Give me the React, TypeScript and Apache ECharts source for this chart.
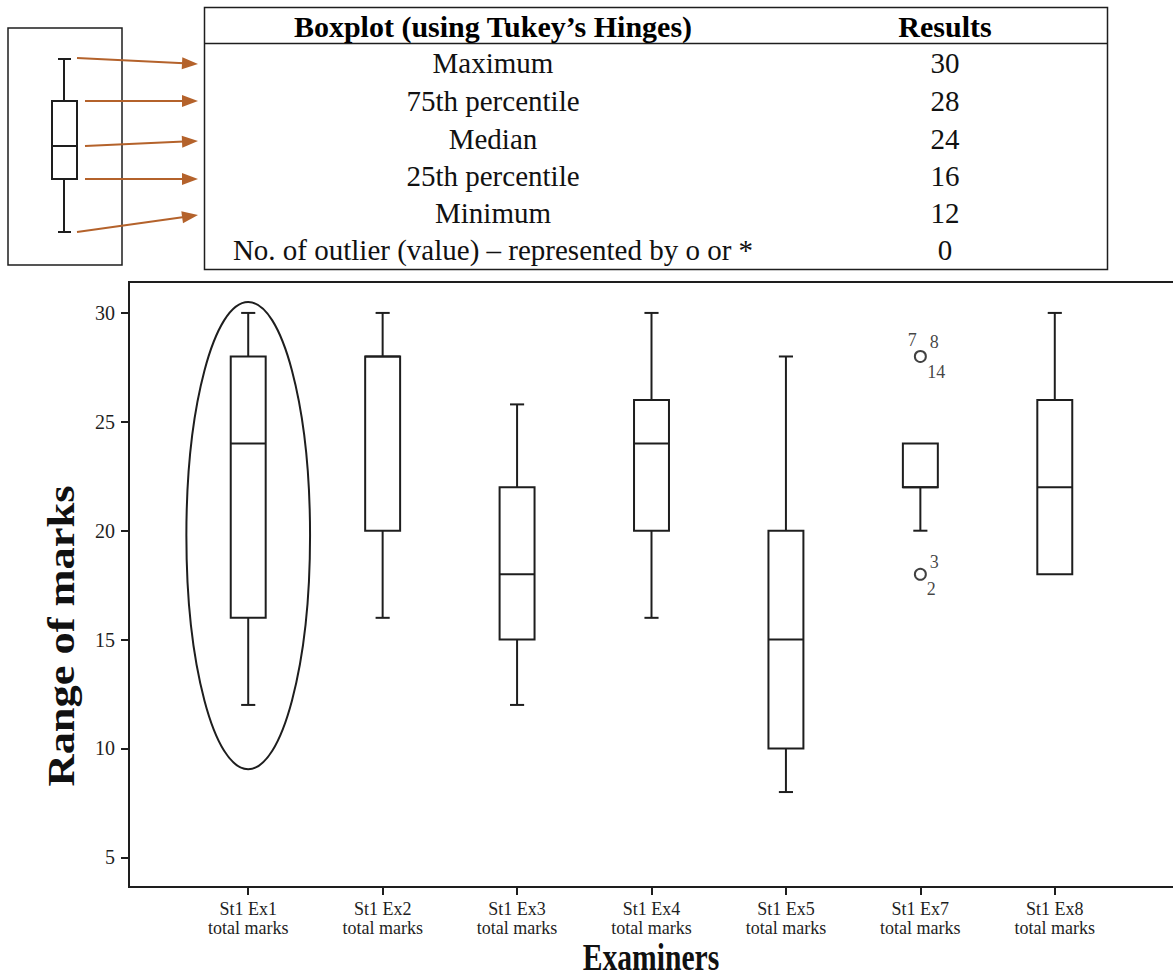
import React, { useEffect, useRef } from "react";
import * as echarts from "echarts";

// ---------- data ----------
const categories = [
  "St1 Ex1\ntotal marks",
  "St1 Ex2\ntotal marks",
  "St1 Ex3\ntotal marks",
  "St1 Ex4\ntotal marks",
  "St1 Ex5\ntotal marks",
  "St1 Ex7\ntotal marks",
  "St1 Ex8\ntotal marks",
];
const minValues = [12, 16, 12, 16, 8, 20, 18];
const q1Values = [16, 20, 15, 20, 10, 22, 18];
const medianValues = [24, 28, 18, 24, 15, 22, 22];
const q3Values = [28, 28, 22, 26, 20, 24, 26];
const maxValues = [30, 30, 25.8, 30, 28, 24, 30];

const outlierCategories = [5, 5];
const outlierValues = [28, 18];

const outlierLabelTexts = ["7", "8", "14", "3", "2"];
const outlierLabelCategories = [5, 5, 5, 5, 5];
const outlierLabelValues = [28, 28, 28, 18, 18];

const yTickValues = [5, 10, 15, 20, 25, 30];

const highlightCategory = [0];
const highlightTop = [30.5];
const highlightBottom = [9.05];

const tableHeaders = ["Boxplot (using Tukey\u2019s Hinges)", "Results"];
const tableLabels = [
  "Maximum",
  "75th percentile",
  "Median",
  "25th percentile",
  "Minimum",
  "No. of outlier (value) \u2013 represented by o or *",
];
const tableResults = ["30", "28", "24", "16", "12", "0"];

const yAxisTitle = "Range of marks";
const xAxisTitle = "Examiners";

// ---------- layout / style ----------
const SERIF = "'Liberation Serif', 'Times New Roman', serif";
const INK = "#1e1e1e";
const ARROW = "#B4622B";
const outlierLabelOffsets = [
  [-8, -16],
  [14, -14],
  [16, 16],
  [14, -12],
  [11, 15],
];
const tableRowY = [63, 101, 139, 176, 213, 250];

function arrow(x1: number, y1: number, x2: number, y2: number) {
  const dx = x2 - x1;
  const dy = y2 - y1;
  const len = Math.sqrt(dx * dx + dy * dy);
  const ux = dx / len;
  const uy = dy / len;
  const headLen = 16;
  const headHalf = 6;
  const bx = x2 - ux * headLen;
  const by = y2 - uy * headLen;
  return [
    {
      type: "line",
      shape: { x1, y1, x2: bx + ux * 2, y2: by + uy * 2 },
      style: { stroke: ARROW, lineWidth: 2 },
    },
    {
      type: "polygon",
      shape: {
        points: [
          [x2, y2],
          [bx - uy * headHalf, by + ux * headHalf],
          [bx + uy * headHalf, by - ux * headHalf],
        ],
      },
      style: { fill: ARROW },
    },
  ];
}

export default function App() {
  const ref = useRef<HTMLDivElement>(null);

  useEffect(() => {
    if (!ref.current) return;
    const chart = echarts.init(ref.current, null, { renderer: "svg" });

    const boxData = categories.map((_, i) => [
      i,
      minValues[i],
      q1Values[i],
      medianValues[i],
      q3Values[i],
      maxValues[i],
    ]);
    const outlierData = outlierCategories.map((c, i) => [c, outlierValues[i]]);
    const outlierLabelData = outlierLabelTexts.map((t, i) => ({
      value: [outlierLabelCategories[i], outlierLabelValues[i]],
      label: {
        show: true,
        formatter: t,
        offset: outlierLabelOffsets[i],
      },
    }));
    const ellipseData = highlightCategory.map((c, i) => [c, highlightTop[i], highlightBottom[i]]);

    const schematic: any[] = [
      { type: "rect", shape: { x: 8, y: 28, width: 114, height: 237 }, style: { fill: "none", stroke: INK, lineWidth: 1.5 } },
      { type: "line", shape: { x1: 64, y1: 59, x2: 64, y2: 101 }, style: { stroke: INK, lineWidth: 2 } },
      { type: "line", shape: { x1: 58, y1: 59, x2: 71, y2: 59 }, style: { stroke: INK, lineWidth: 2 } },
      { type: "rect", shape: { x: 52, y: 101, width: 25, height: 78 }, style: { fill: "#fff", stroke: INK, lineWidth: 2 } },
      { type: "line", shape: { x1: 52, y1: 146, x2: 77, y2: 146 }, style: { stroke: INK, lineWidth: 2 } },
      { type: "line", shape: { x1: 64, y1: 179, x2: 64, y2: 232 }, style: { stroke: INK, lineWidth: 2 } },
      { type: "line", shape: { x1: 58, y1: 232, x2: 71, y2: 232 }, style: { stroke: INK, lineWidth: 2 } },
      ...arrow(77, 58, 198, 64),
      ...arrow(85, 101, 198, 101),
      ...arrow(85, 146, 198, 141),
      ...arrow(85, 179, 198, 179),
      ...arrow(77, 232, 198, 215),
    ];

    const table: any[] = [
      { type: "rect", shape: { x: 204.5, y: 7.5, width: 903, height: 262 }, style: { fill: "none", stroke: INK, lineWidth: 1.5 } },
      { type: "line", shape: { x1: 204.5, y1: 43.5, x2: 1107.5, y2: 43.5 }, style: { stroke: INK, lineWidth: 1.5 } },
      {
        type: "text", x: 493, y: 26,
        style: { text: tableHeaders[0], font: `bold 30px ${SERIF}`, fill: "#000", textAlign: "center", textVerticalAlign: "middle" },
      },
      {
        type: "text", x: 945, y: 26,
        style: { text: tableHeaders[1], font: `bold 30px ${SERIF}`, fill: "#000", textAlign: "center", textVerticalAlign: "middle" },
      },
      ...tableLabels.map((t, i) => ({
        type: "text", x: 493, y: tableRowY[i],
        style: { text: t, font: `29px ${SERIF}`, fill: "#111", textAlign: "center", textVerticalAlign: "middle" },
      })),
      ...tableResults.map((t, i) => ({
        type: "text", x: 945, y: tableRowY[i],
        style: { text: t, font: `29px ${SERIF}`, fill: "#111", textAlign: "center", textVerticalAlign: "middle" },
      })),
    ];

    const titles: any[] = [
      {
        type: "text",
        x: 62,
        y: 636,
        rotation: Math.PI / 2,
        scaleX: 1.2,
        style: { text: yAxisTitle, font: `bold 37px ${SERIF}`, fill: "#111", textAlign: "center", textVerticalAlign: "middle" },
      },
      {
        type: "text",
        x: 651,
        y: 957,
        scaleX: 0.8,
        style: { text: xAxisTitle, font: `bold 37px ${SERIF}`, fill: "#111", textAlign: "center", textVerticalAlign: "middle" },
      },
    ];

    const frame = {
      type: "rect",
      shape: { x: 129, y: 282, width: 1060, height: 605 },
      style: { fill: "none", stroke: INK, lineWidth: 2 },
      silent: true,
    };

    chart.setOption({
      animation: false,
      backgroundColor: "#fff",
      grid: { left: 181, right: 51, top: 282, bottom: 91, containLabel: false },
      xAxis: {
        type: "category",
        data: categories,
        axisLine: { show: false },
        axisTick: { show: true, alignWithLabel: true, length: 8, lineStyle: { color: INK, width: 2 } },
        axisLabel: {
          interval: 0,
          fontFamily: SERIF,
          fontSize: 18,
          lineHeight: 19,
          color: "#1e1e1e",
          margin: 12,
        },
        splitLine: { show: false },
      },
      yAxis: {
        type: "value",
        min: 3.64,
        max: 31.42,
        offset: 52,
        axisLine: { show: true, lineStyle: { color: INK, width: 2 } },
        axisTick: { show: true, length: 8, customValues: yTickValues, lineStyle: { color: INK, width: 2 } },
        axisLabel: {
          customValues: yTickValues,
          fontFamily: SERIF,
          fontSize: 20,
          color: "#1e1e1e",
          margin: 14,
        },
        splitLine: { show: false },
      },
      graphic: [frame, ...schematic, ...table, ...titles],
      series: [
        {
          type: "custom",
          name: "boxes",
          data: boxData,
          encode: { x: 0, y: [1, 2, 3, 4, 5] },
          renderItem: (params: any, api: any) => {
            const idx = api.value(0);
            const mn = api.value(1);
            const q1 = api.value(2);
            const md = api.value(3);
            const q3 = api.value(4);
            const mx = api.value(5);
            const pMin = api.coord([idx, mn]);
            const pQ1 = api.coord([idx, q1]);
            const pMd = api.coord([idx, md]);
            const pQ3 = api.coord([idx, q3]);
            const pMax = api.coord([idx, mx]);
            const band = api.size([1, 0])[0];
            const bw = band * 0.26;
            const cw = band * 0.105;
            const cx = pMin[0];
            const st = { stroke: INK, lineWidth: 2, fill: "none" };
            const children: any[] = [];
            if (mx > q3) {
              children.push({ type: "line", shape: { x1: cx, y1: pQ3[1], x2: cx, y2: pMax[1] }, style: st });
              children.push({ type: "line", shape: { x1: cx - cw / 2, y1: pMax[1], x2: cx + cw / 2, y2: pMax[1] }, style: st });
            }
            if (mn < q1) {
              children.push({ type: "line", shape: { x1: cx, y1: pQ1[1], x2: cx, y2: pMin[1] }, style: st });
              children.push({ type: "line", shape: { x1: cx - cw / 2, y1: pMin[1], x2: cx + cw / 2, y2: pMin[1] }, style: st });
            }
            children.push({
              type: "rect",
              shape: { x: cx - bw / 2, y: pQ3[1], width: bw, height: pQ1[1] - pQ3[1] },
              style: { fill: "#fff", stroke: INK, lineWidth: 2 },
            });
            children.push({ type: "line", shape: { x1: cx - bw / 2, y1: pMd[1], x2: cx + bw / 2, y2: pMd[1] }, style: st });
            return { type: "group", children };
          },
          z: 3,
        },
        {
          type: "custom",
          name: "highlight",
          data: ellipseData,
          encode: { x: 0, y: [1, 2] },
          renderItem: (params: any, api: any) => {
            const idx = api.value(0);
            const top = api.coord([idx, api.value(1)]);
            const bot = api.coord([idx, api.value(2)]);
            const band = api.size([1, 0])[0];
            return {
              type: "ellipse",
              shape: { cx: top[0], cy: (top[1] + bot[1]) / 2, rx: band * 0.46, ry: (bot[1] - top[1]) / 2 },
              style: { fill: "none", stroke: INK, lineWidth: 2 },
            };
          },
          z: 4,
        },
        {
          type: "scatter",
          name: "outliers",
          data: outlierData,
          symbol: "circle",
          symbolSize: 11,
          itemStyle: { color: "#fff", borderColor: "#111", borderWidth: 2 },
          z: 5,
        },
        {
          type: "scatter",
          name: "outlier ids",
          data: outlierLabelData,
          symbolSize: 0,
          label: {
            show: true,
            position: "inside",
            fontFamily: SERIF,
            fontSize: 18,
            color: "#111",
          },
          z: 6,
        },
      ],
    });

    return () => chart.dispose();
  }, []);

  return (
    <div
      ref={ref}
      style={{ position: "absolute", left: 0, top: 0, width: 1173, height: 978, background: "#fff" }}
    />
  );
}
